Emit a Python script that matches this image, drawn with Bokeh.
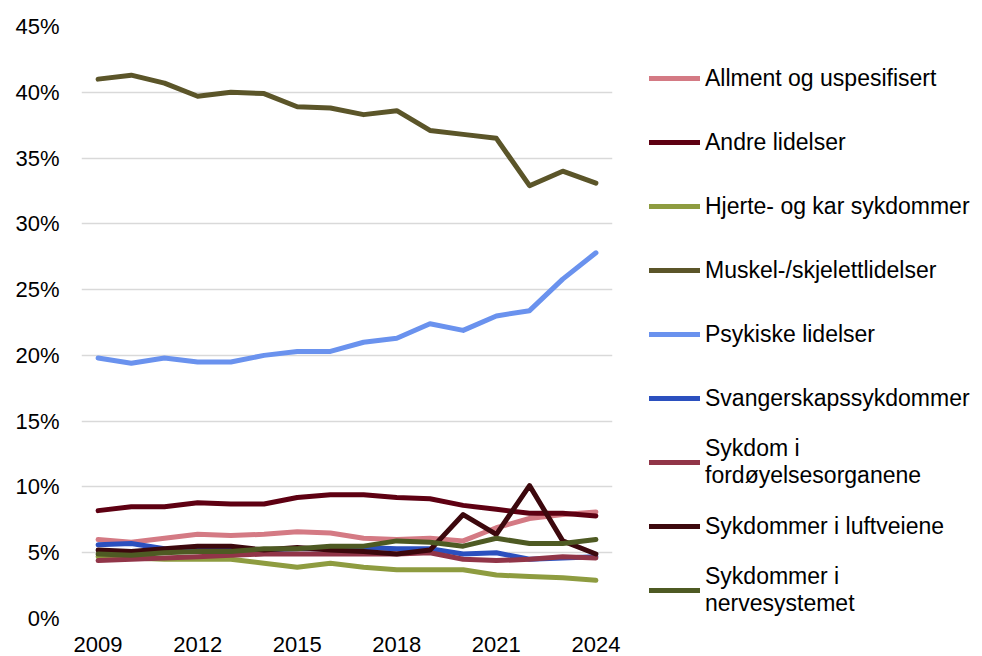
from bokeh.plotting import figure
from bokeh.layouts import row
from bokeh.models import Legend, LegendItem, FixedTicker, PrintfTickFormatter, Range1d
from bokeh.embed import file_html
from bokeh.resources import INLINE

years = list(range(2009, 2025))

allment = [6.0, 5.8, 6.1, 6.4, 6.3, 6.4, 6.6, 6.5, 6.1, 6.0, 6.1, 5.9, 6.9, 7.6, 7.9, 8.1]
andre = [8.2, 8.5, 8.5, 8.8, 8.7, 8.7, 9.2, 9.4, 9.4, 9.2, 9.1, 8.6, 8.3, 8.0, 8.0, 7.8]
hjerte = [4.7, 4.6, 4.5, 4.5, 4.5, 4.2, 3.9, 4.2, 3.9, 3.7, 3.7, 3.7, 3.3, 3.2, 3.1, 2.9]
muskel = [41.0, 41.3, 40.7, 39.7, 40.0, 39.9, 38.9, 38.8, 38.3, 38.6, 37.1, 36.8, 36.5, 32.9, 34.0, 33.1]
psykiske = [19.8, 19.4, 19.8, 19.5, 19.5, 20.0, 20.3, 20.3, 21.0, 21.3, 22.4, 21.9, 23.0, 23.4, 25.8, 27.8]
svangerskap = [5.6, 5.7, 5.3, 5.2, 5.2, 5.2, 5.3, 5.3, 5.4, 5.3, 5.3, 4.9, 5.0, 4.5, 4.6, 4.7]
fordoyelse = [4.4, 4.5, 4.6, 4.7, 4.8, 4.9, 4.9, 4.9, 4.9, 4.9, 5.0, 4.5, 4.4, 4.5, 4.7, 4.6]
luftveiene = [5.2, 5.1, 5.3, 5.5, 5.5, 5.2, 5.4, 5.2, 5.1, 4.9, 5.2, 7.9, 6.4, 10.1, 5.9, 4.9]
nervesystemet = [4.9, 4.8, 5.0, 5.1, 5.1, 5.3, 5.3, 5.5, 5.5, 5.9, 5.8, 5.5, 6.1, 5.7, 5.7, 6.0]

names = [
    "Allment og uspesifisert",
    "Andre lidelser",
    "Hjerte- og kar sykdommer",
    "Muskel-/skjelettlidelser",
    "Psykiske lidelser",
    "Svangerskapssykdommer",
    "Sykdom i\nfordøyelsesorganene",
    "Sykdommer i luftveiene",
    "Sykdommer i\nnervesystemet",
]
values = [allment, andre, hjerte, muskel, psykiske, svangerskap, fordoyelse, luftveiene, nervesystemet]
colors = ["#D47A84", "#5E0012", "#8E9C40", "#5B5529", "#6A92EE", "#2B50BF", "#913548", "#3C080D", "#4E5A23"]

x_ticks = [2009, 2012, 2015, 2018, 2021, 2024]
y_ticks = [0, 5, 10, 15, 20, 25, 30, 35, 40, 45]

FONT = "Liberation Sans"

# main chart
p = figure(width=625, height=656, output_backend="svg", toolbar_location=None,
           x_range=Range1d(2008.5, 2024.5), y_range=Range1d(0, 45),
           min_border_left=81, min_border_right=13, min_border_top=26, min_border_bottom=38)
p.outline_line_color = None
p.background_fill_color = "white"
p.border_fill_color = "white"

for vals, col in zip(values, colors):
    p.line(years, vals, line_color=col, line_width=5, line_cap="round", line_join="round")

p.xaxis.ticker = FixedTicker(ticks=x_ticks)
p.yaxis.ticker = FixedTicker(ticks=y_ticks)
p.yaxis.formatter = PrintfTickFormatter(format="%d%%")
for ax in (p.xaxis[0], p.yaxis[0]):
    ax.axis_line_color = None
    ax.major_tick_line_color = None
    ax.minor_tick_line_color = None
    ax.major_tick_in = 0
    ax.major_tick_out = 0
    ax.major_label_text_font = FONT
    ax.major_label_text_font_size = "22px"
    ax.major_label_text_color = "#000000"
p.yaxis.major_label_standoff = 22
p.xaxis.major_label_standoff = 18
p.xgrid.grid_line_color = None
p.ygrid.grid_line_color = "#D9D9D9"
p.ygrid.grid_line_width = 1.5

# legend panel (series drawn off-range so only the legend shows)
lg = figure(width=357, height=656, output_backend="svg", toolbar_location=None,
            x_range=Range1d(0, 1), y_range=Range1d(0, 1),
            x_axis_type=None, y_axis_type=None,
            min_border_left=1, min_border_right=0, min_border_top=26, min_border_bottom=38)
lg.outline_line_color = None
lg.xgrid.grid_line_color = None
lg.ygrid.grid_line_color = None
lg.border_fill_color = "white"
lg.background_fill_color = "white"

items = []
for name, vals, col in zip(names, values, colors):
    r = lg.line(years, vals, line_color=col, line_width=5, line_cap="round")
    items.append(LegendItem(label=name, renderers=[r]))

legend = Legend(items=items, location="top_left", orientation="vertical")
legend.border_line_color = None
legend.background_fill_alpha = 0
legend.margin = 23
legend.padding = 0
legend.glyph_width = 51
legend.glyph_height = 58
legend.label_height = 58
legend.label_standoff = 5
legend.spacing = 6
legend.label_text_font = FONT
legend.label_text_font_size = "23px"
legend.label_text_color = "#000000"
legend.label_text_line_height = 1.0
lg.add_layout(legend, "center")

layout = row(p, lg)
open("out.html", "w").write(file_html(layout, INLINE))
